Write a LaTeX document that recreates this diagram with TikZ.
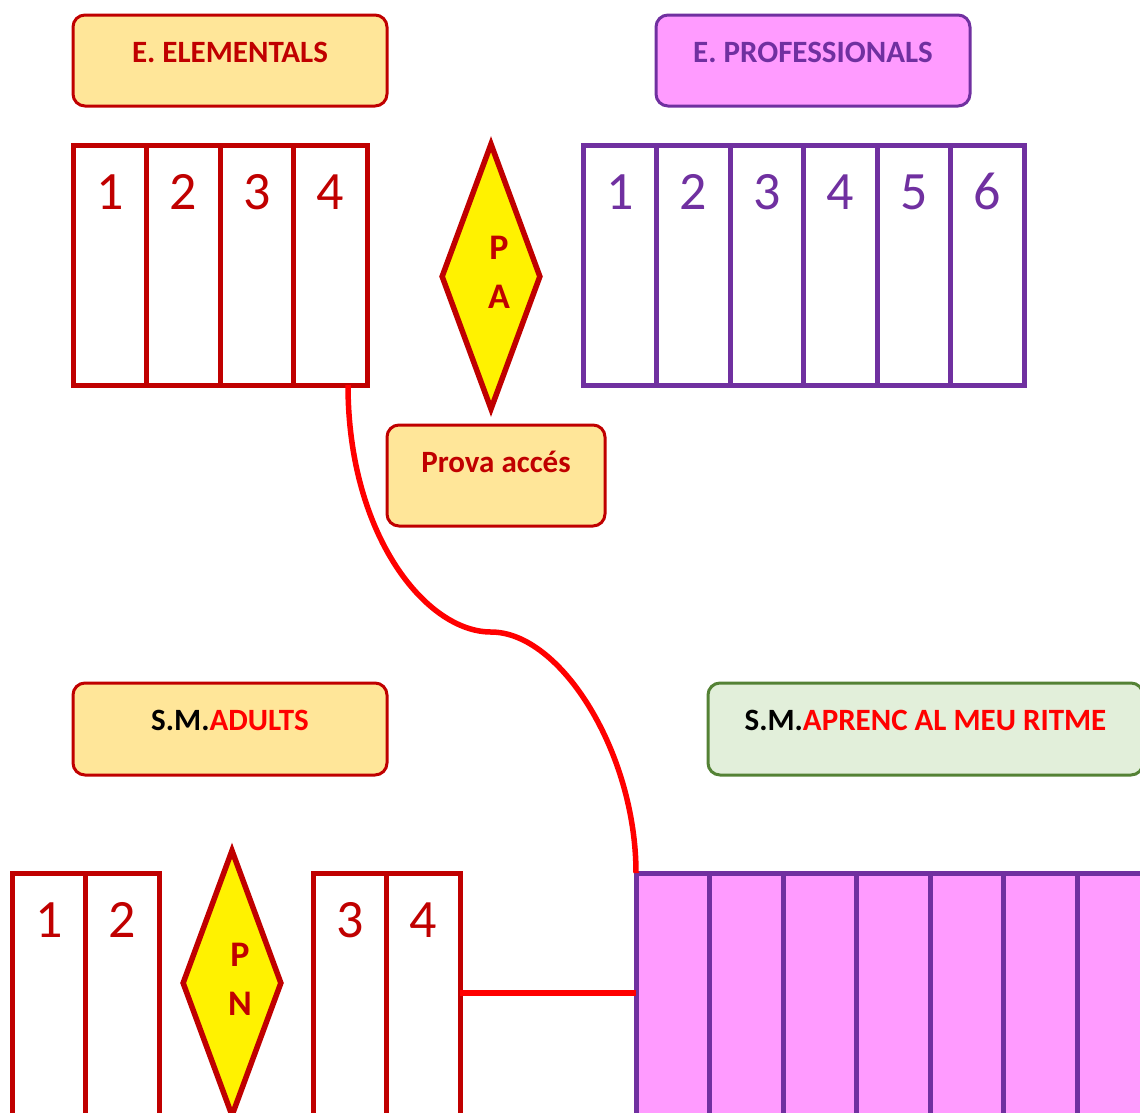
\documentclass[tikz,border=0pt]{standalone}
\usepackage{fontspec}
\setmainfont{Carlito}
\usepackage{tikz}
\usetikzlibrary{positioning, shapes.geometric}
\definecolor{granat}{HTML}{C00000}
\definecolor{lila}{HTML}{7030A0}
\definecolor{rosa}{HTML}{FF9BFF}
\definecolor{crema}{HTML}{FFE699}
\definecolor{verdclar}{HTML}{E2EFDA}
\definecolor{verdfosc}{HTML}{548235}
\tikzstyle{titol} = [draw, rectangle, rounded corners=12pt, line width=3pt,
   minimum height=91pt, text height=21pt, text depth=18pt,
   font=\bfseries\fontsize{31}{37}\selectfont]
\tikzstyle{curs} = [draw, rectangle, line width=5pt, outer sep=0pt, fill=white,
   minimum width=73.5pt, minimum height=240pt, text height=34pt, text depth=146pt,
   font=\fontsize{54}{60}\selectfont]
\tikzstyle{cursb} = [curs, minimum height=250pt, text depth=156pt]
\tikzstyle{prova} = [diamond, draw=granat, fill=yellow, line width=5.5pt, inner sep=0pt,
   minimum width=100pt, minimum height=267pt]
\tikzstyle{lletres} = [text=granat, align=center, xshift=8pt, yshift=4pt,
   font=\bfseries\fontsize{36}{49}\selectfont]
\tikzstyle{enllac} = [red, line width=5.5pt]

\begin{document}
\begin{tikzpicture}[x=1pt, y=-1pt]
  \useasboundingbox (0,0) rectangle (1140,1112);
  \clip (0,0) rectangle (1140,1112);

  % capçaleres
  \node[titol,draw=granat,fill=crema,text=granat,minimum width=314pt] at (230,60.5)(el){E. ELEMENTALS};
  \node[titol,draw=lila,fill=rosa,text=lila,minimum width=314pt] at (813,60.5)(pr){E. PROFESSIONALS};
  \node[titol,draw=granat,fill=crema,text=granat,minimum width=218pt,minimum height=101pt,text depth=28pt] at (496,475.5)(pv){Prova accés};
  \node[titol,draw=granat,fill=crema,minimum width=314pt,minimum height=92pt,text depth=19pt] at (230,729)(ad){S.M.\textcolor{red}{ADULTS}};
  \node[titol,draw=verdfosc,fill=verdclar,minimum width=435pt,minimum height=92pt,text depth=19pt] at (925.5,729)(rt){S.M.\textcolor{red}{APRENC AL MEU RITME}};

  % elementals
  \node[curs,draw=granat,text=granat,anchor=north west] at (73,145)(e1){1};
  \node[curs,draw=granat,text=granat,right=0pt of e1](e2){2};
  \node[curs,draw=granat,text=granat,right=0pt of e2](e3){3};
  \node[curs,draw=granat,text=granat,right=0pt of e3](e4){4};

  \node[prova,label={[lletres]center:P\\A}] at (491,276.5)(pa){};

  % professionals
  \node[curs,draw=lila,text=lila,anchor=north west] at (583,145)(p1){1};
  \node[curs,draw=lila,text=lila,right=0pt of p1](p2){2};
  \node[curs,draw=lila,text=lila,right=0pt of p2](p3){3};
  \node[curs,draw=lila,text=lila,right=0pt of p3](p4){4};
  \node[curs,draw=lila,text=lila,right=0pt of p4](p5){5};
  \node[curs,draw=lila,text=lila,right=0pt of p5](p6){6};

  % adults
  \node[cursb,draw=granat,text=granat,anchor=north west] at (12,873)(a1){1};
  \node[cursb,draw=granat,text=granat,right=0pt of a1](a2){2};
  \node[prova,label={[lletres]center:P\\N}] at (232,983)(pn){};
  \node[cursb,draw=granat,text=granat,anchor=north west] at (313,873)(a3){3};
  \node[cursb,draw=granat,text=granat,right=0pt of a3](a4){4};

  % aprenc al meu ritme
  \node[cursb,draw=lila,fill=rosa,anchor=north west] at (636,873)(r1){};
  \node[cursb,draw=lila,fill=rosa,right=0pt of r1](r2){};
  \node[cursb,draw=lila,fill=rosa,right=0pt of r2](r3){};
  \node[cursb,draw=lila,fill=rosa,right=0pt of r3](r4){};
  \node[cursb,draw=lila,fill=rosa,right=0pt of r4](r5){};
  \node[cursb,draw=lila,fill=rosa,right=0pt of r5](r6){};
  \node[cursb,draw=lila,fill=rosa,right=0pt of r6](r7){};

  \coordinate (mig) at (491,632);
  \draw[enllac] ([xshift=-19pt]e4.south east) .. controls +(0,150) and +(-65,0) .. (mig)
     .. controls +(70,0) and +(0,-120) .. (r1.north west);
  \draw[enllac] ([yshift=5pt]a4.east) -- ([yshift=5pt]r1.west);
\end{tikzpicture}
\end{document}
